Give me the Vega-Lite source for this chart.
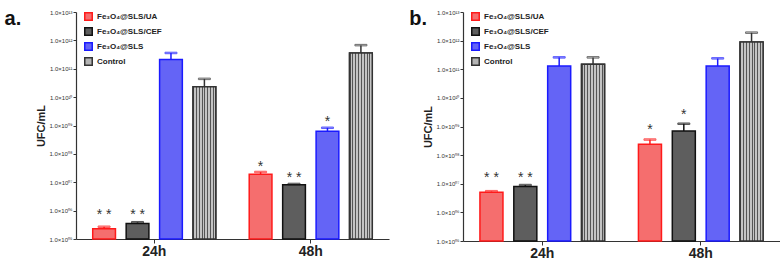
{
  "$schema": "https://vega.github.io/schema/vega-lite/v6.json",
  "padding": {"left": 4, "top": 9, "right": 0, "bottom": 0},
  "config": {"font": "Liberation Sans", "view": {"stroke": null}, "concat": {"spacing": 20}},
  "datasets": {
    "d": [
      {"p": "a", "t": "24h", "g": "Fe₃O₄@SLS/UA", "v": 230000, "e": 270000, "s": "* *", "sy": 1000000},
      {"p": "a", "t": "24h", "g": "Fe₃O₄@SLS/CEF", "v": 350000, "e": 390000, "s": "* *", "sy": 1000000},
      {"p": "a", "t": "24h", "g": "Fe₃O₄@SLS", "v": 210000000000, "e": 360000000000, "s": "", "sy": null},
      {"p": "a", "t": "24h", "g": "Control", "v": 23000000000, "e": 44000000000, "s": "", "sy": null},
      {"p": "a", "t": "48h", "g": "Fe₃O₄@SLS/UA", "v": 19000000, "e": 23000000, "s": "*", "sy": 46000000},
      {"p": "a", "t": "48h", "g": "Fe₃O₄@SLS/CEF", "v": 8100000, "e": 8700000, "s": "* *", "sy": 20000000},
      {"p": "a", "t": "48h", "g": "Fe₃O₄@SLS", "v": 630000000, "e": 830000000, "s": "*", "sy": 1900000000},
      {"p": "a", "t": "48h", "g": "Control", "v": 360000000000, "e": 680000000000, "s": "", "sy": null},
      {"p": "b", "t": "24h", "g": "Fe₃O₄@SLS/UA", "v": 5000000, "e": 5500000, "s": "* *", "sy": 22000000},
      {"p": "b", "t": "24h", "g": "Fe₃O₄@SLS/CEF", "v": 8000000, "e": 9000000, "s": "* *", "sy": 22000000},
      {"p": "b", "t": "24h", "g": "Fe₃O₄@SLS", "v": 130000000000, "e": 260000000000, "s": "", "sy": null},
      {"p": "b", "t": "24h", "g": "Control", "v": 150000000000, "e": 260000000000, "s": "", "sy": null},
      {"p": "b", "t": "48h", "g": "Fe₃O₄@SLS/UA", "v": 240000000, "e": 350000000, "s": "*", "sy": 1050000000},
      {"p": "b", "t": "48h", "g": "Fe₃O₄@SLS/CEF", "v": 700000000, "e": 1250000000, "s": "*", "sy": 3500000000},
      {"p": "b", "t": "48h", "g": "Fe₃O₄@SLS", "v": 130000000000, "e": 240000000000, "s": "", "sy": null},
      {"p": "b", "t": "48h", "g": "Control", "v": 900000000000, "e": 1900000000000, "s": "", "sy": null}
    ]
  },
  "hconcat": [
    {
      "width": 313, "height": 227,
      "data": {"name": "d"},
      "transform": [{"filter": "datum.p === 'a'"}],
      "title": {"text": "a.", "orient": "left", "anchor": "end", "angle": 0, "align": "right", "baseline": "top", "offset": -2, "fontSize": 20, "fontWeight": "bold", "color": "#111"},
      "encoding": {
        "x": {"field": "t", "type": "nominal", "scale": {"paddingInner": 0, "paddingOuter": 0},
              "axis": {"title": null, "labelAngle": 0, "labelFontSize": 14, "labelFontWeight": "bold", "labelColor": "#222", "tickSize": 4, "tickColor": "#333", "domainColor": "#333", "domainWidth": 1.2, "labelPadding": 1}},
        "xOffset": {"field": "g", "type": "nominal", "sort": ["Fe₃O₄@SLS/UA", "Fe₃O₄@SLS/CEF", "Fe₃O₄@SLS", "Control"], "scale": {"paddingInner": 0.32, "paddingOuter": 0.5}}
      },
      "layer": [
        {
          "mark": {"type": "bar", "strokeWidth": 1.5},
          "encoding": {
            "y": {"field": "v", "type": "quantitative", "scale": {"type": "log", "domain": [100000, 10000000000000], "nice": false},
                  "axis": {"title": "UFC/mL", "titleFontSize": 11, "titleFontWeight": "bold", "titleColor": "#222", "titlePadding": 2, "grid": false,
                           "values": [100000, 1000000, 10000000, 100000000, 1000000000, 10000000000, 100000000000, 1000000000000, 10000000000000],
                           "labelExpr": "'1.0×10' + ['⁰⁵','⁰⁶','⁰⁷','⁰⁸','⁰⁹','¹⁰','¹¹','¹²','¹³'][round(log(datum.value)/LN10)-5]",
                           "labelFontSize": 6, "labelColor": "#333", "labelPadding": 1, "tickSize": 3, "tickColor": "#333", "domainColor": "#333", "domainWidth": 1.2}},
            "y2": {"datum": 100000},
            "color": {"field": "g", "type": "nominal", "sort": ["Fe₃O₄@SLS/UA", "Fe₃O₄@SLS/CEF", "Fe₃O₄@SLS", "Control"],
                      "scale": {"domain": ["Fe₃O₄@SLS/UA", "Fe₃O₄@SLS/CEF", "Fe₃O₄@SLS", "Control"], "range": ["#f56e6e", "#5e5e5e", "#6464f6", "#b4b4b4"]},
                      "legend": {"orient": "none", "legendX": 8, "legendY": 0, "title": null, "symbolType": "square", "symbolSize": 56, "symbolStrokeWidth": 1.5, "labelFontSize": 8, "labelFontWeight": "bold", "labelColor": "#222", "rowPadding": 0, "labelOffset": 4}},
            "stroke": {"field": "g", "type": "nominal", "sort": ["Fe₃O₄@SLS/UA", "Fe₃O₄@SLS/CEF", "Fe₃O₄@SLS", "Control"],
                      "scale": {"domain": ["Fe₃O₄@SLS/UA", "Fe₃O₄@SLS/CEF", "Fe₃O₄@SLS", "Control"], "range": ["#ff1a1a", "#111111", "#1a1aff", "#333333"]},
                      "legend": {"orient": "none", "legendX": 8, "legendY": 0, "title": null, "symbolType": "square", "symbolSize": 56, "symbolStrokeWidth": 1.5, "labelFontSize": 8, "labelFontWeight": "bold", "labelColor": "#222", "rowPadding": 0, "labelOffset": 4}}
          }
        },
        {
          "transform": [{"filter": "datum.g === 'Control'"}],
          "mark": {"type": "bar", "strokeWidth": 1.5, "stroke": "#333333",
                   "fill": {"gradient": "linear", "x1": 0, "y1": 0, "x2": 1, "y2": 0, "stops": [
                     {"offset": 0, "color": "#555555"}, {"offset": 0.045, "color": "#555555"}, {"offset": 0.045, "color": "#c4c4c4"}, {"offset": 0.125, "color": "#c4c4c4"},
                     {"offset": 0.125, "color": "#555555"}, {"offset": 0.17, "color": "#555555"}, {"offset": 0.17, "color": "#c4c4c4"}, {"offset": 0.25, "color": "#c4c4c4"},
                     {"offset": 0.25, "color": "#555555"}, {"offset": 0.295, "color": "#555555"}, {"offset": 0.295, "color": "#c4c4c4"}, {"offset": 0.375, "color": "#c4c4c4"},
                     {"offset": 0.375, "color": "#555555"}, {"offset": 0.42, "color": "#555555"}, {"offset": 0.42, "color": "#c4c4c4"}, {"offset": 0.5, "color": "#c4c4c4"},
                     {"offset": 0.5, "color": "#555555"}, {"offset": 0.545, "color": "#555555"}, {"offset": 0.545, "color": "#c4c4c4"}, {"offset": 0.625, "color": "#c4c4c4"},
                     {"offset": 0.625, "color": "#555555"}, {"offset": 0.67, "color": "#555555"}, {"offset": 0.67, "color": "#c4c4c4"}, {"offset": 0.75, "color": "#c4c4c4"},
                     {"offset": 0.75, "color": "#555555"}, {"offset": 0.795, "color": "#555555"}, {"offset": 0.795, "color": "#c4c4c4"}, {"offset": 0.875, "color": "#c4c4c4"},
                     {"offset": 0.875, "color": "#555555"}, {"offset": 0.92, "color": "#555555"}, {"offset": 0.92, "color": "#c4c4c4"}, {"offset": 1, "color": "#c4c4c4"}]}},
          "encoding": {"y": {"field": "v", "type": "quantitative"}, "y2": {"datum": 100000}}
        },
        {
          "mark": {"type": "rule", "strokeWidth": 1.5},
          "encoding": {"y": {"field": "v", "type": "quantitative"}, "y2": {"field": "e"}, "stroke": {"field": "g", "type": "nominal", "legend": null}}
        },
        {
          "mark": {"type": "tick", "thickness": 1.5},
          "encoding": {"y": {"field": "e", "type": "quantitative"}, "size": {"value": 12}, "color": {"field": "g", "type": "nominal", "legend": null}, "stroke": {"field": "g", "type": "nominal", "legend": null}}
        },
        {
          "transform": [{"filter": "datum.s !== ''"}],
          "mark": {"type": "text", "fontSize": 14, "color": "#333", "baseline": "middle", "dy": 4},
          "encoding": {"y": {"field": "sy", "type": "quantitative"}, "text": {"field": "s"}}
        }
      ]
    },
    {
      "width": 317, "height": 229,
      "data": {"name": "d"},
      "transform": [{"filter": "datum.p === 'b'"}],
      "title": {"text": "b.", "orient": "left", "anchor": "end", "angle": 0, "align": "right", "baseline": "top", "offset": -22, "fontSize": 20, "fontWeight": "bold", "color": "#111"},
      "encoding": {
        "x": {"field": "t", "type": "nominal", "scale": {"paddingInner": 0, "paddingOuter": 0},
              "axis": {"title": null, "labelAngle": 0, "labelFontSize": 14, "labelFontWeight": "bold", "labelColor": "#222", "tickSize": 4, "tickColor": "#333", "domainColor": "#333", "domainWidth": 1.2, "labelPadding": 1}},
        "xOffset": {"field": "g", "type": "nominal", "sort": ["Fe₃O₄@SLS/UA", "Fe₃O₄@SLS/CEF", "Fe₃O₄@SLS", "Control"], "scale": {"paddingInner": 0.32, "paddingOuter": 0.5}}
      },
      "layer": [
        {
          "mark": {"type": "bar", "strokeWidth": 1.5},
          "encoding": {
            "y": {"field": "v", "type": "quantitative", "scale": {"type": "log", "domain": [100000, 10000000000000], "nice": false},
                  "axis": {"title": "UFC/mL", "titleFontSize": 11, "titleFontWeight": "bold", "titleColor": "#222", "titlePadding": 2, "grid": false,
                           "values": [100000, 1000000, 10000000, 100000000, 1000000000, 10000000000, 100000000000, 1000000000000, 10000000000000],
                           "labelExpr": "'1.0×10' + ['⁰⁵','⁰⁶','⁰⁷','⁰⁸','⁰⁹','¹⁰','¹¹','¹²','¹³'][round(log(datum.value)/LN10)-5]",
                           "labelFontSize": 6, "labelColor": "#333", "labelPadding": 1, "tickSize": 3, "tickColor": "#333", "domainColor": "#333", "domainWidth": 1.2}},
            "y2": {"datum": 100000},
            "color": {"field": "g", "type": "nominal", "sort": ["Fe₃O₄@SLS/UA", "Fe₃O₄@SLS/CEF", "Fe₃O₄@SLS", "Control"],
                      "scale": {"domain": ["Fe₃O₄@SLS/UA", "Fe₃O₄@SLS/CEF", "Fe₃O₄@SLS", "Control"], "range": ["#f56e6e", "#5e5e5e", "#6464f6", "#b4b4b4"]},
                      "legend": {"orient": "none", "legendX": 8, "legendY": 0, "title": null, "symbolType": "square", "symbolSize": 56, "symbolStrokeWidth": 1.5, "labelFontSize": 8, "labelFontWeight": "bold", "labelColor": "#222", "rowPadding": 0, "labelOffset": 4}},
            "stroke": {"field": "g", "type": "nominal", "sort": ["Fe₃O₄@SLS/UA", "Fe₃O₄@SLS/CEF", "Fe₃O₄@SLS", "Control"],
                      "scale": {"domain": ["Fe₃O₄@SLS/UA", "Fe₃O₄@SLS/CEF", "Fe₃O₄@SLS", "Control"], "range": ["#ff1a1a", "#111111", "#1a1aff", "#333333"]},
                      "legend": {"orient": "none", "legendX": 8, "legendY": 0, "title": null, "symbolType": "square", "symbolSize": 56, "symbolStrokeWidth": 1.5, "labelFontSize": 8, "labelFontWeight": "bold", "labelColor": "#222", "rowPadding": 0, "labelOffset": 4}}
          }
        },
        {
          "transform": [{"filter": "datum.g === 'Control'"}],
          "mark": {"type": "bar", "strokeWidth": 1.5, "stroke": "#333333",
                   "fill": {"gradient": "linear", "x1": 0, "y1": 0, "x2": 1, "y2": 0, "stops": [
                     {"offset": 0, "color": "#555555"}, {"offset": 0.045, "color": "#555555"}, {"offset": 0.045, "color": "#c4c4c4"}, {"offset": 0.125, "color": "#c4c4c4"},
                     {"offset": 0.125, "color": "#555555"}, {"offset": 0.17, "color": "#555555"}, {"offset": 0.17, "color": "#c4c4c4"}, {"offset": 0.25, "color": "#c4c4c4"},
                     {"offset": 0.25, "color": "#555555"}, {"offset": 0.295, "color": "#555555"}, {"offset": 0.295, "color": "#c4c4c4"}, {"offset": 0.375, "color": "#c4c4c4"},
                     {"offset": 0.375, "color": "#555555"}, {"offset": 0.42, "color": "#555555"}, {"offset": 0.42, "color": "#c4c4c4"}, {"offset": 0.5, "color": "#c4c4c4"},
                     {"offset": 0.5, "color": "#555555"}, {"offset": 0.545, "color": "#555555"}, {"offset": 0.545, "color": "#c4c4c4"}, {"offset": 0.625, "color": "#c4c4c4"},
                     {"offset": 0.625, "color": "#555555"}, {"offset": 0.67, "color": "#555555"}, {"offset": 0.67, "color": "#c4c4c4"}, {"offset": 0.75, "color": "#c4c4c4"},
                     {"offset": 0.75, "color": "#555555"}, {"offset": 0.795, "color": "#555555"}, {"offset": 0.795, "color": "#c4c4c4"}, {"offset": 0.875, "color": "#c4c4c4"},
                     {"offset": 0.875, "color": "#555555"}, {"offset": 0.92, "color": "#555555"}, {"offset": 0.92, "color": "#c4c4c4"}, {"offset": 1, "color": "#c4c4c4"}]}},
          "encoding": {"y": {"field": "v", "type": "quantitative"}, "y2": {"datum": 100000}}
        },
        {
          "mark": {"type": "rule", "strokeWidth": 1.5},
          "encoding": {"y": {"field": "v", "type": "quantitative"}, "y2": {"field": "e"}, "stroke": {"field": "g", "type": "nominal", "legend": null}}
        },
        {
          "mark": {"type": "tick", "thickness": 1.5},
          "encoding": {"y": {"field": "e", "type": "quantitative"}, "size": {"value": 12}, "color": {"field": "g", "type": "nominal", "legend": null}, "stroke": {"field": "g", "type": "nominal", "legend": null}}
        },
        {
          "transform": [{"filter": "datum.s !== ''"}],
          "mark": {"type": "text", "fontSize": 14, "color": "#333", "baseline": "middle", "dy": 4},
          "encoding": {"y": {"field": "sy", "type": "quantitative"}, "text": {"field": "s"}}
        }
      ]
    }
  ],
  "resolve": {"scale": {"color": "independent", "stroke": "independent", "y": "independent", "x": "independent", "xOffset": "independent"}}
}
